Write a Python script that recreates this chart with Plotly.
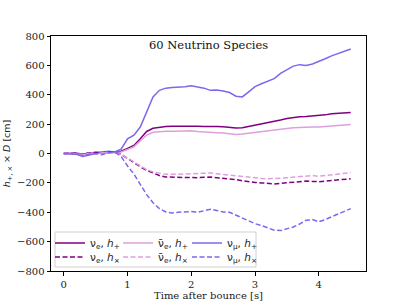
import plotly.graph_objects as go

t = [round(0.1 * i, 1) for i in range(46)]

nue_hp = [0, 0, 2, -5, 3, 5, 8, 5, 8, 15, 35, 55, 100, 150, 172, 180, 183, 185, 186, 188,
          190, 186, 184, 186, 184, 182, 178, 174, 176, 184, 195, 203, 208, 215, 228, 238,
          245, 250, 252, 254, 258, 263, 270, 273, 276, 280]
nuebar_hp = [0, 2, -3, -8, 0, 8, 12, 6, 5, 10, 25, 45, 85, 125, 145, 150, 152, 152, 153, 153,
             155, 150, 146, 145, 142, 140, 135, 130, 132, 138, 145, 150, 155, 158, 165, 170,
             175, 178, 178, 180, 180, 183, 187, 190, 193, 198]
numu_hp = [0, -2, -5, -20, -8, 0, 10, 15, 10, 30, 100, 125, 180, 280, 385, 430, 445, 450, 452, 455,
           462, 455, 445, 430, 432, 425, 415, 390, 385, 420, 455, 475, 490, 510, 545, 570,
           595, 605, 600, 610, 625, 645, 665, 680, 692, 712]
nue_hx = [0, 0, 3, -5, 5, 8, 5, 10, 8, -5, -35, -60, -90, -115, -135, -150, -160, -162, -160, -163,
          -165, -165, -162, -160, -165, -168, -170, -178, -186, -193, -197, -200, -205, -207, -203, -198,
          -195, -190, -188, -190, -192, -188, -183, -178, -175, -172]
nuebar_hx = [0, 2, -2, -6, 2, -5, 6, 8, 5, -5, -30, -55, -85, -110, -125, -135, -142, -142, -140, -140,
             -140, -138, -135, -133, -138, -143, -148, -150, -158, -165, -168, -170, -172, -172, -168, -165,
             -160, -155, -150, -150, -155, -150, -145, -140, -135, -130]
numu_hx = [0, 3, -8, -15, -5, 0, -8, 5, 10, -20, -85, -140, -210, -280, -335, -375, -398, -405, -400, -395,
           -395, -400, -390, -380, -388, -398, -400, -420, -440, -460, -478, -490, -508, -522, -525, -515,
           -500, -480, -455, -450, -465, -450, -430, -410, -390, -375]

# (label, values, colour, dash, legend column px, legend row px)
series = [
    ("ν<sub>e</sub>, <i>h</i><sub>+</sub>", nue_hp, "#800080", "solid", 50, 243),
    ("ν̄<sub>e</sub>, <i>h</i><sub>+</sub>", nuebar_hp, "#DDA0DD", "solid", 118, 243),
    ("ν<sub>μ</sub>, <i>h</i><sub>+</sub>", numu_hp, "#7B68EE", "solid", 187, 243),
    ("ν<sub>e</sub>, <i>h</i><sub>×</sub>", nue_hx, "#800080", "5px,2.5px", 50, 257),
    ("ν̄<sub>e</sub>, <i>h</i><sub>×</sub>", nuebar_hx, "#DDA0DD", "5px,2.5px", 118, 257),
    ("ν<sub>μ</sub>, <i>h</i><sub>×</sub>", numu_hx, "#7B68EE", "5px,2.5px", 187, 257),
]

L, R, T, B = 51, 41, 36, 34
W, H = 407, 305
pw = W - L - R
ph = H - T - B

def px2x(p):
    return (p - L) / pw

def px2y(p):
    return 1 - (p - T) / ph

fig = go.Figure()
legends = {}
for i, (name, y, c, d, lx, ly) in enumerate(series):
    key = "legend" if i == 0 else f"legend{i + 1}"
    fig.add_trace(go.Scatter(x=t, y=y, mode="lines", name=name,
                             line=dict(color=c, width=1.5, dash=d), legend=key))
    legends[key] = dict(x=px2x(lx), y=px2y(ly), xanchor="left", yanchor="middle",
                        bgcolor="rgba(0,0,0,0)", borderwidth=0, itemwidth=30,
                        font=dict(family="DejaVu Sans", size=10.5, color="#222"))

fig.update_layout(
    width=W, height=H,
    margin=dict(l=L, r=R, t=T, b=B),
    plot_bgcolor="white", paper_bgcolor="white",
    font=dict(family="DejaVu Serif", size=10, color="#222"),
    xaxis=dict(range=[-0.2, 4.74], tickvals=[0, 1, 2, 3, 4], showgrid=False, zeroline=False,
               showline=True, linecolor="black", linewidth=1, mirror=True, automargin=False,
               ticks="outside", ticklen=3.5, tickcolor="black",
               title=dict(text="Time after bounce [s]", font=dict(size=10), standoff=2)),
    yaxis=dict(range=[-800, 800], tickvals=list(range(-800, 801, 200)), showgrid=False, zeroline=False,
               showline=True, linecolor="black", linewidth=1, mirror=True, automargin=False,
               ticks="outside", ticklen=3.5, tickcolor="black",
               title=dict(text="<i>h</i><sub>+, ×</sub> × <i>D</i> [cm]",
                          font=dict(family="DejaVu Sans", size=9.5), standoff=4)),
    showlegend=True,
    **legends,
)
fig.add_shape(type="rect", xref="paper", yref="paper",
              x0=px2x(55), x1=px2x(256), y0=px2y(267), y1=px2y(232),
              line=dict(color="#d0d0d0", width=1), fillcolor="rgba(255,255,255,0.8)", layer="below")
fig.add_annotation(text="60 Neutrino Species", xref="paper", yref="paper", x=0.5, y=px2y(45),
                   yanchor="middle", showarrow=False, font=dict(family="DejaVu Serif", size=11.5, color="#111"))
fig.write_html("out.html", config={"displayModeBar": False},
               post_script="document.body.style.margin='0';")
